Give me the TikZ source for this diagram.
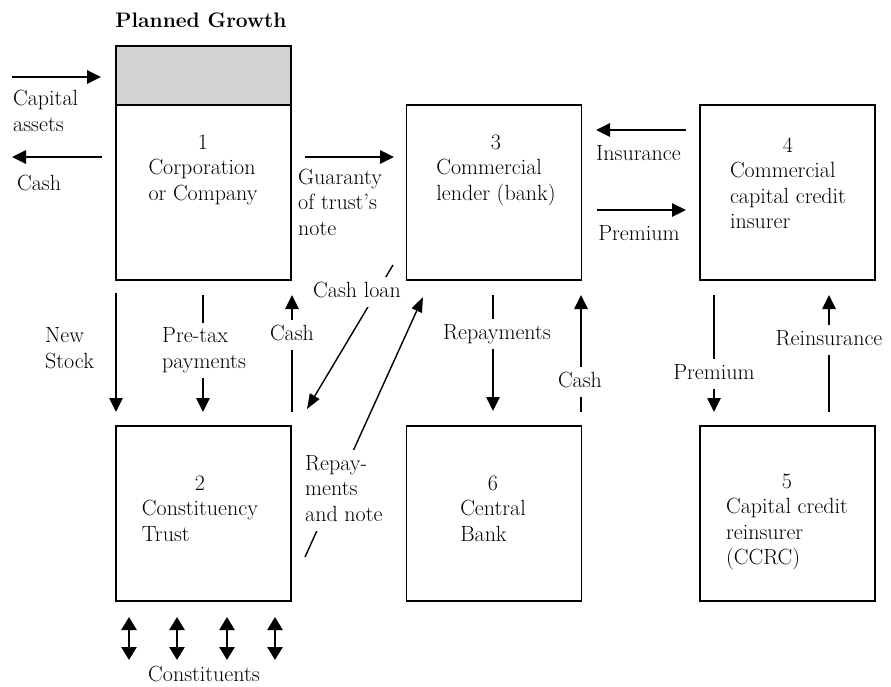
\documentclass[tikz,border=0pt]{standalone}
\usetikzlibrary{arrows.meta}
\definecolor{shade}{RGB}{211,211,211}
\newcommand\mlines[1]{\begin{tabular}{@{}l@{}}#1\end{tabular}}
\newcommand\numblk[2]{\begin{tabular}{@{}l@{}}\multicolumn{1}{@{}c@{}}{#1}\\#2\end{tabular}}
\begin{document}
\begin{tikzpicture}[x=1pt,y=-1pt,
  font=\fontsize{22}{25.5}\selectfont,
  box/.style={draw, line width=1.3pt, minimum width=175pt, minimum height=175pt, inner sep=0pt, outer sep=0pt},
  arr/.style={line width=2.6pt, -{Triangle[length=14pt,width=13pt]}},
  thinarr/.style={line width=1.4pt, -{Triangle[length=15pt,width=11pt]}},
  dbl/.style={line width=2.6pt, {Triangle[length=13pt,width=15pt]}-{Triangle[length=13pt,width=15pt]}},
  lbl/.style={inner sep=0pt},
  cut/.style={fill=white, inner sep=2pt},
  blk/.style={inner sep=0pt, anchor=north}
  ]
\useasboundingbox (0,0) rectangle (891,687);

% connector end points
\coordinate (capA) at (12,77);   \coordinate (capB) at (101,77);
\coordinate (cshA) at (102,157); \coordinate (cshB) at (12,157);
\coordinate (guaA) at (305,157); \coordinate (guaB) at (394,157);
\coordinate (insA) at (686,130); \coordinate (insB) at (596,130);
\coordinate (preA) at (597,210); \coordinate (preB) at (686,210);
\coordinate (nsA) at (116,293);  \coordinate (nsB) at (116,412);
\coordinate (ptA) at (203,295);  \coordinate (ptB) at (203,412);
\coordinate (c1A) at (292,412);  \coordinate (c1B) at (292,295);
\coordinate (clA) at (393,265);  \coordinate (clB) at (307,409);
\coordinate (rnA) at (305,557);  \coordinate (rnB) at (423,297);
\coordinate (rpA) at (493,295);  \coordinate (rpB) at (493,411);
\coordinate (c2A) at (581,412);  \coordinate (c2B) at (581,295);
\coordinate (pdA) at (714,295);  \coordinate (pdB) at (714,412);
\coordinate (riA) at (829,412);  \coordinate (riB) at (829,295);
\foreach \i/\x in {1/129,2/177,3/227,4/275}{
  \coordinate (k\i A) at (\x,617); \coordinate (k\i B) at (\x,660);
}

% connectors
\draw[arr] (capA) -- (capB);
\draw[arr] (cshA) -- (cshB);
\draw[arr] (guaA) -- (guaB);
\draw[arr] (insA) -- (insB);
\draw[arr] (preA) -- (preB);
\draw[arr] (nsA) -- (nsB);
\draw[arr] (ptA) -- (ptB);
\draw[arr] (c1A) -- (c1B);
\draw[thinarr] (clA) -- (clB);
\draw[thinarr] (rnA) -- (rnB);
\draw[arr] (rpA) -- (rpB);
\draw[arr] (c2A) -- (c2B);
\draw[arr] (pdA) -- (pdB);
\draw[arr] (riA) -- (riB);
\foreach \i in {1,2,3,4}{ \draw[dbl] (k\i A) -- (k\i B); }

% labels
\node[lbl, font=\fontsize{21}{25.5}\selectfont] (pg) at (201,22) {\mlines{\bfseries Planned Growth}};
\node[lbl, anchor=west] (lcap) at (13,113.5) {\mlines{Capital\\assets}};
\node[lbl, anchor=west] (lcsh) at (17,185) {\mlines{Cash}};
\node[lbl, anchor=west] (lgua) at (298,204.5) {\mlines{Guaranty\\of trust's\\note}};
\node[lbl] (lins) at (638.5,155) {\mlines{Insurance}};
\node[lbl] (lpre) at (639,235) {\mlines{Premium}};
\node[lbl, anchor=west] (lns) at (45,350.5) {\mlines{New\\Stock}};
\node[cut, anchor=west] (lpt) at (160,350.5) {\mlines{Pre-tax\\payments}};
\node[cut] (lc1) at (292,335) {\mlines{Cash}};
\node[cut] (lcl) at (357,292) {\mlines{Cash loan}};
\node[cut, anchor=west] (lrn) at (303,490.5) {\mlines{Repay-\\ments\\and note}};
\node[cut] (lrp) at (497,334) {\mlines{Repayments}};
\node[cut] (lc2) at (580,382) {\mlines{Cash}};
\node[cut] (lpd) at (714,374) {\mlines{Premium}};
\node[cut] (lri) at (829,340) {\mlines{Reinsurance}};
\node[lbl] (lco) at (204,676) {\mlines{Constituents}};

% boxes
\node[box, fill=shade, minimum height=59pt] (g1) at (203.5,75.5) {};
\node[box] (b1) at (203.5,192.5) {};
\node[box] (b3) at (494,192.5) {};
\node[box] (b4) at (787.5,192.5) {};
\node[box] (b2) at (203.5,513.5) {};
\node[box] (b6) at (494,513.5) {};
\node[box] (b5) at (787.5,513.5) {};

% box texts
\node[blk] (t1) at (203,131) {\numblk{1}{Corporation\\or Company}};
\node[blk] (t3) at (496,131) {\numblk{3}{Commercial\\lender (bank)}};
\node[blk] (t4) at (788,134) {\numblk{4}{Commercial\\capital credit\\insurer}};
\node[blk] (t2) at (200,472) {\numblk{2}{Constituency\\Trust}};
\node[blk] (t6) at (493,472) {\numblk{6}{Central\\Bank}};
\node[blk] (t5) at (787,470) {\numblk{5}{Capital credit\\reinsurer\\(CCRC)}};
\end{tikzpicture}
\end{document}
